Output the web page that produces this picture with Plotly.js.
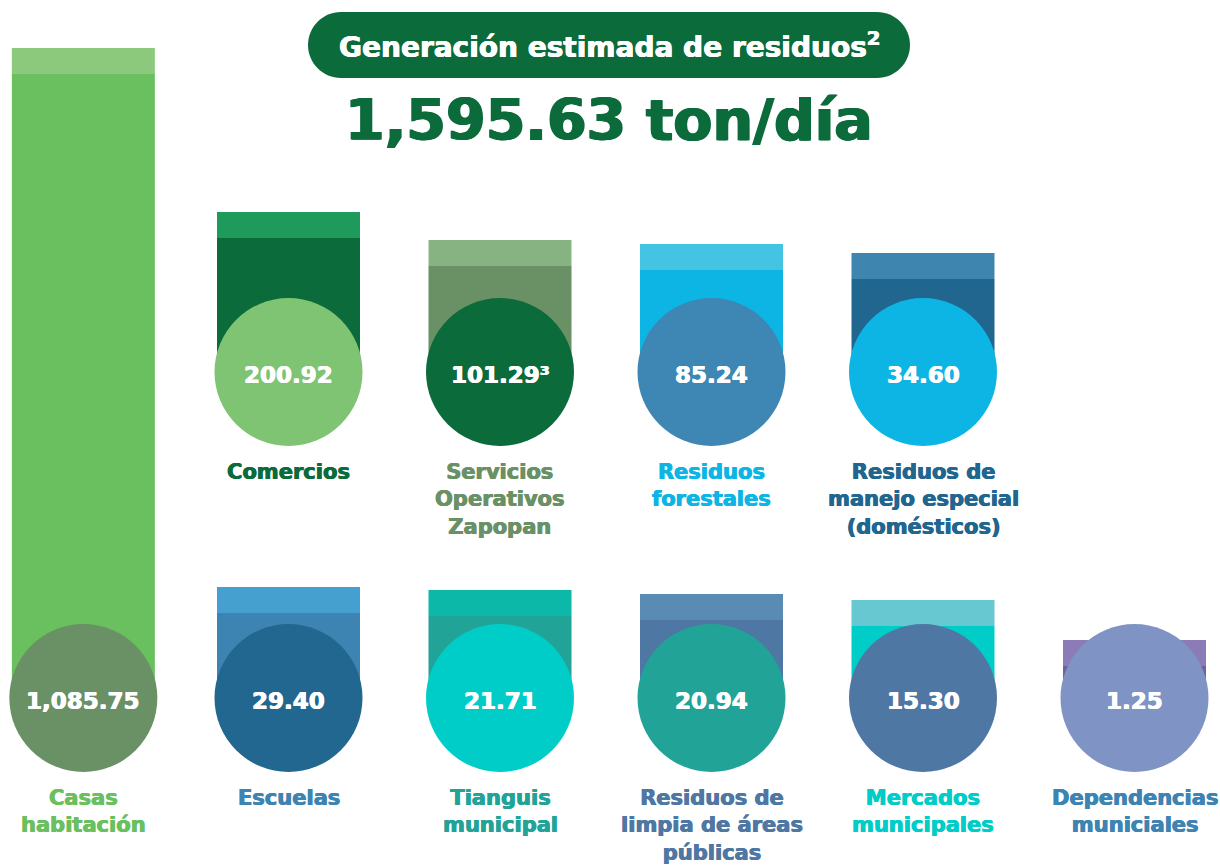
<!DOCTYPE html>
<html>
<head>
<meta charset="utf-8">
<script src="https://cdn.plot.ly/plotly-3.0.1.min.js"></script>
<style>html,body{margin:0;padding:0;background:#fff;}#chart{width:1220px;height:865px;}</style>
</head>
<body>
<div id="chart"></div>
<script>
// ---- data ----
const categories = ['Casas<br>habitación', 'Comercios', 'Servicios<br>Operativos<br>Zapopan', 'Residuos<br>forestales',
  'Residuos de<br>manejo especial<br>(domésticos)', 'Escuelas', 'Tianguis<br>municipal',
  'Residuos de<br>limpia de áreas<br>públicas', 'Mercados<br>municipales', 'Dependencias<br>municiales'];
const values = [1085.75, 200.92, 101.29, 85.24, 34.60, 29.40, 21.71, 20.94, 15.30, 1.25];
const footnotes = ['', '', '³', '', '', '', '', '', '', ''];
// decorative bar heights as drawn in the infographic (visual units)
const barHeights = [650, 160, 132, 128, 119, 111, 108, 104, 98, 58];
const totalText = '1,595.63 ton/día';
const titleText = 'Generación estimada de residuos<sup>2</sup>';

// ---- layout of the grid ----
const column = [0.03, 1, 2, 3, 4, 1, 2, 3, 4, 5];
const rowBase = [167, 493, 493, 493, 493, 167, 167, 167, 167, 167];

// ---- styles ----
const capColors  = ['#8cc97c','#1e9a5a','#87b383','#45c3e3','#3e86b0','#45a0d0','#0cb8a8','#5a8bb5','#68c8d2','#8b7cb8'];
const bodyColors = ['#6abf5e','#0b6b3b','#6a9066','#0db5e5','#21668f','#3e84b2','#22a398','#4f77a3','#00cdc8','#6f629e'];
const circleColors = ['#6a9065','#7fc472','#0b6b3b','#3e86b3','#0db5e5','#22678f','#00cdc8','#22a398','#4f77a3','#7f93c4'];
const labelColors = ['#6abf5e','#0b6b3b','#6a9066','#0db5e5','#21668f','#3e84b2','#22a398','#4f77a3','#00cdc8','#3e84b2'];
const capH = 26;
const PX = 211.5;          // pixels per column
const X0 = 77;             // pixel of column 0
const barWidth = 143 / PX;
const FONT = '"DejaVu Sans", Lato, sans-serif';
const DARK = '#0b6b3b';
const bold = c => `0.5px 0 0 ${c}, -0.5px 0 0 ${c}`;

const bodyH = barHeights.map(h => h - capH);
const capBase = rowBase.map((b, i) => b + bodyH[i]);

const fmt = v => v.toLocaleString('en-US', {minimumFractionDigits: 2, maximumFractionDigits: 2});

const traces = [
  {type: 'bar', x: column, y: bodyH, base: rowBase, width: barWidth,
   marker: {color: bodyColors, line: {width: 0}}, hoverinfo: 'skip', showlegend: false},
  {type: 'bar', x: column, y: barHeights.map(() => capH), base: capBase, width: barWidth,
   marker: {color: capColors, line: {width: 0}}, hoverinfo: 'skip', showlegend: false},
  {type: 'scatter', mode: 'markers', x: column, y: rowBase,
   marker: {size: 148, color: circleColors, line: {width: 0}, opacity: 1},
   hoverinfo: 'skip', showlegend: false, cliponaxis: false}
];

const annotations = categories.map((c, i) => ({
  x: column[i], y: rowBase[i], xref: 'x', yref: 'y',
  text: c, showarrow: false, xanchor: 'center', yanchor: 'top', yshift: -86,
  align: 'center', font: {family: FONT, size: 21, color: labelColors[i], weight: 'bold', shadow: bold(labelColors[i])}
}));
values.forEach((v, i) => annotations.push({
  x: column[i], y: rowBase[i], xref: 'x', yref: 'y',
  text: fmt(v) + footnotes[i], showarrow: false, xanchor: 'center', yanchor: 'middle', yshift: -3,
  font: {family: FONT, size: 23, color: '#ffffff', weight: 'bold', shadow: bold('#ffffff')}
}));
annotations.push({
  x: 609/1220, y: 1 - 45/865, xref: 'paper', yref: 'paper', showarrow: false,
  text: titleText, xanchor: 'center', yanchor: 'middle',
  font: {family: FONT, size: 28, color: '#ffffff', weight: 'bold', shadow: bold('#ffffff')}
});
annotations.push({
  x: 609/1220, y: 1 - 120/865, xref: 'paper', yref: 'paper', showarrow: false,
  text: totalText, xanchor: 'center', yanchor: 'middle',
  font: {family: FONT, size: 57, color: DARK, weight: 'bold', shadow: `1px 0 0 ${DARK}, -1px 0 0 ${DARK}`}
});

const k = 18.2;
const pill = `M -268,-33 L 268,-33 C ${268+k},-33 301,-${k} 301,0 C 301,${k} ${268+k},33 268,33 L -268,33 C -${268+k},33 -301,${k} -301,0 C -301,-${k} -${268+k},-33 -268,-33 Z`;

const layout = {
  width: 1220, height: 865,
  margin: {l: 0, r: 0, t: 0, b: 0},
  paper_bgcolor: '#ffffff', plot_bgcolor: '#ffffff',
  barmode: 'overlay',
  xaxis: {range: [-X0/PX, (1220-X0)/PX], visible: false, fixedrange: true},
  yaxis: {range: [0, 865], visible: false, fixedrange: true},
  shapes: [{type: 'path', xref: 'paper', yref: 'paper', xsizemode: 'pixel', ysizemode: 'pixel',
    xanchor: 609/1220, yanchor: 1 - 45/865, path: pill, fillcolor: DARK, line: {width: 0}, layer: 'above'}],
  annotations: annotations,
  showlegend: false
};

Plotly.newPlot('chart', traces, layout, {displayModeBar: false, staticPlot: true});
</script>
</body>
</html>
